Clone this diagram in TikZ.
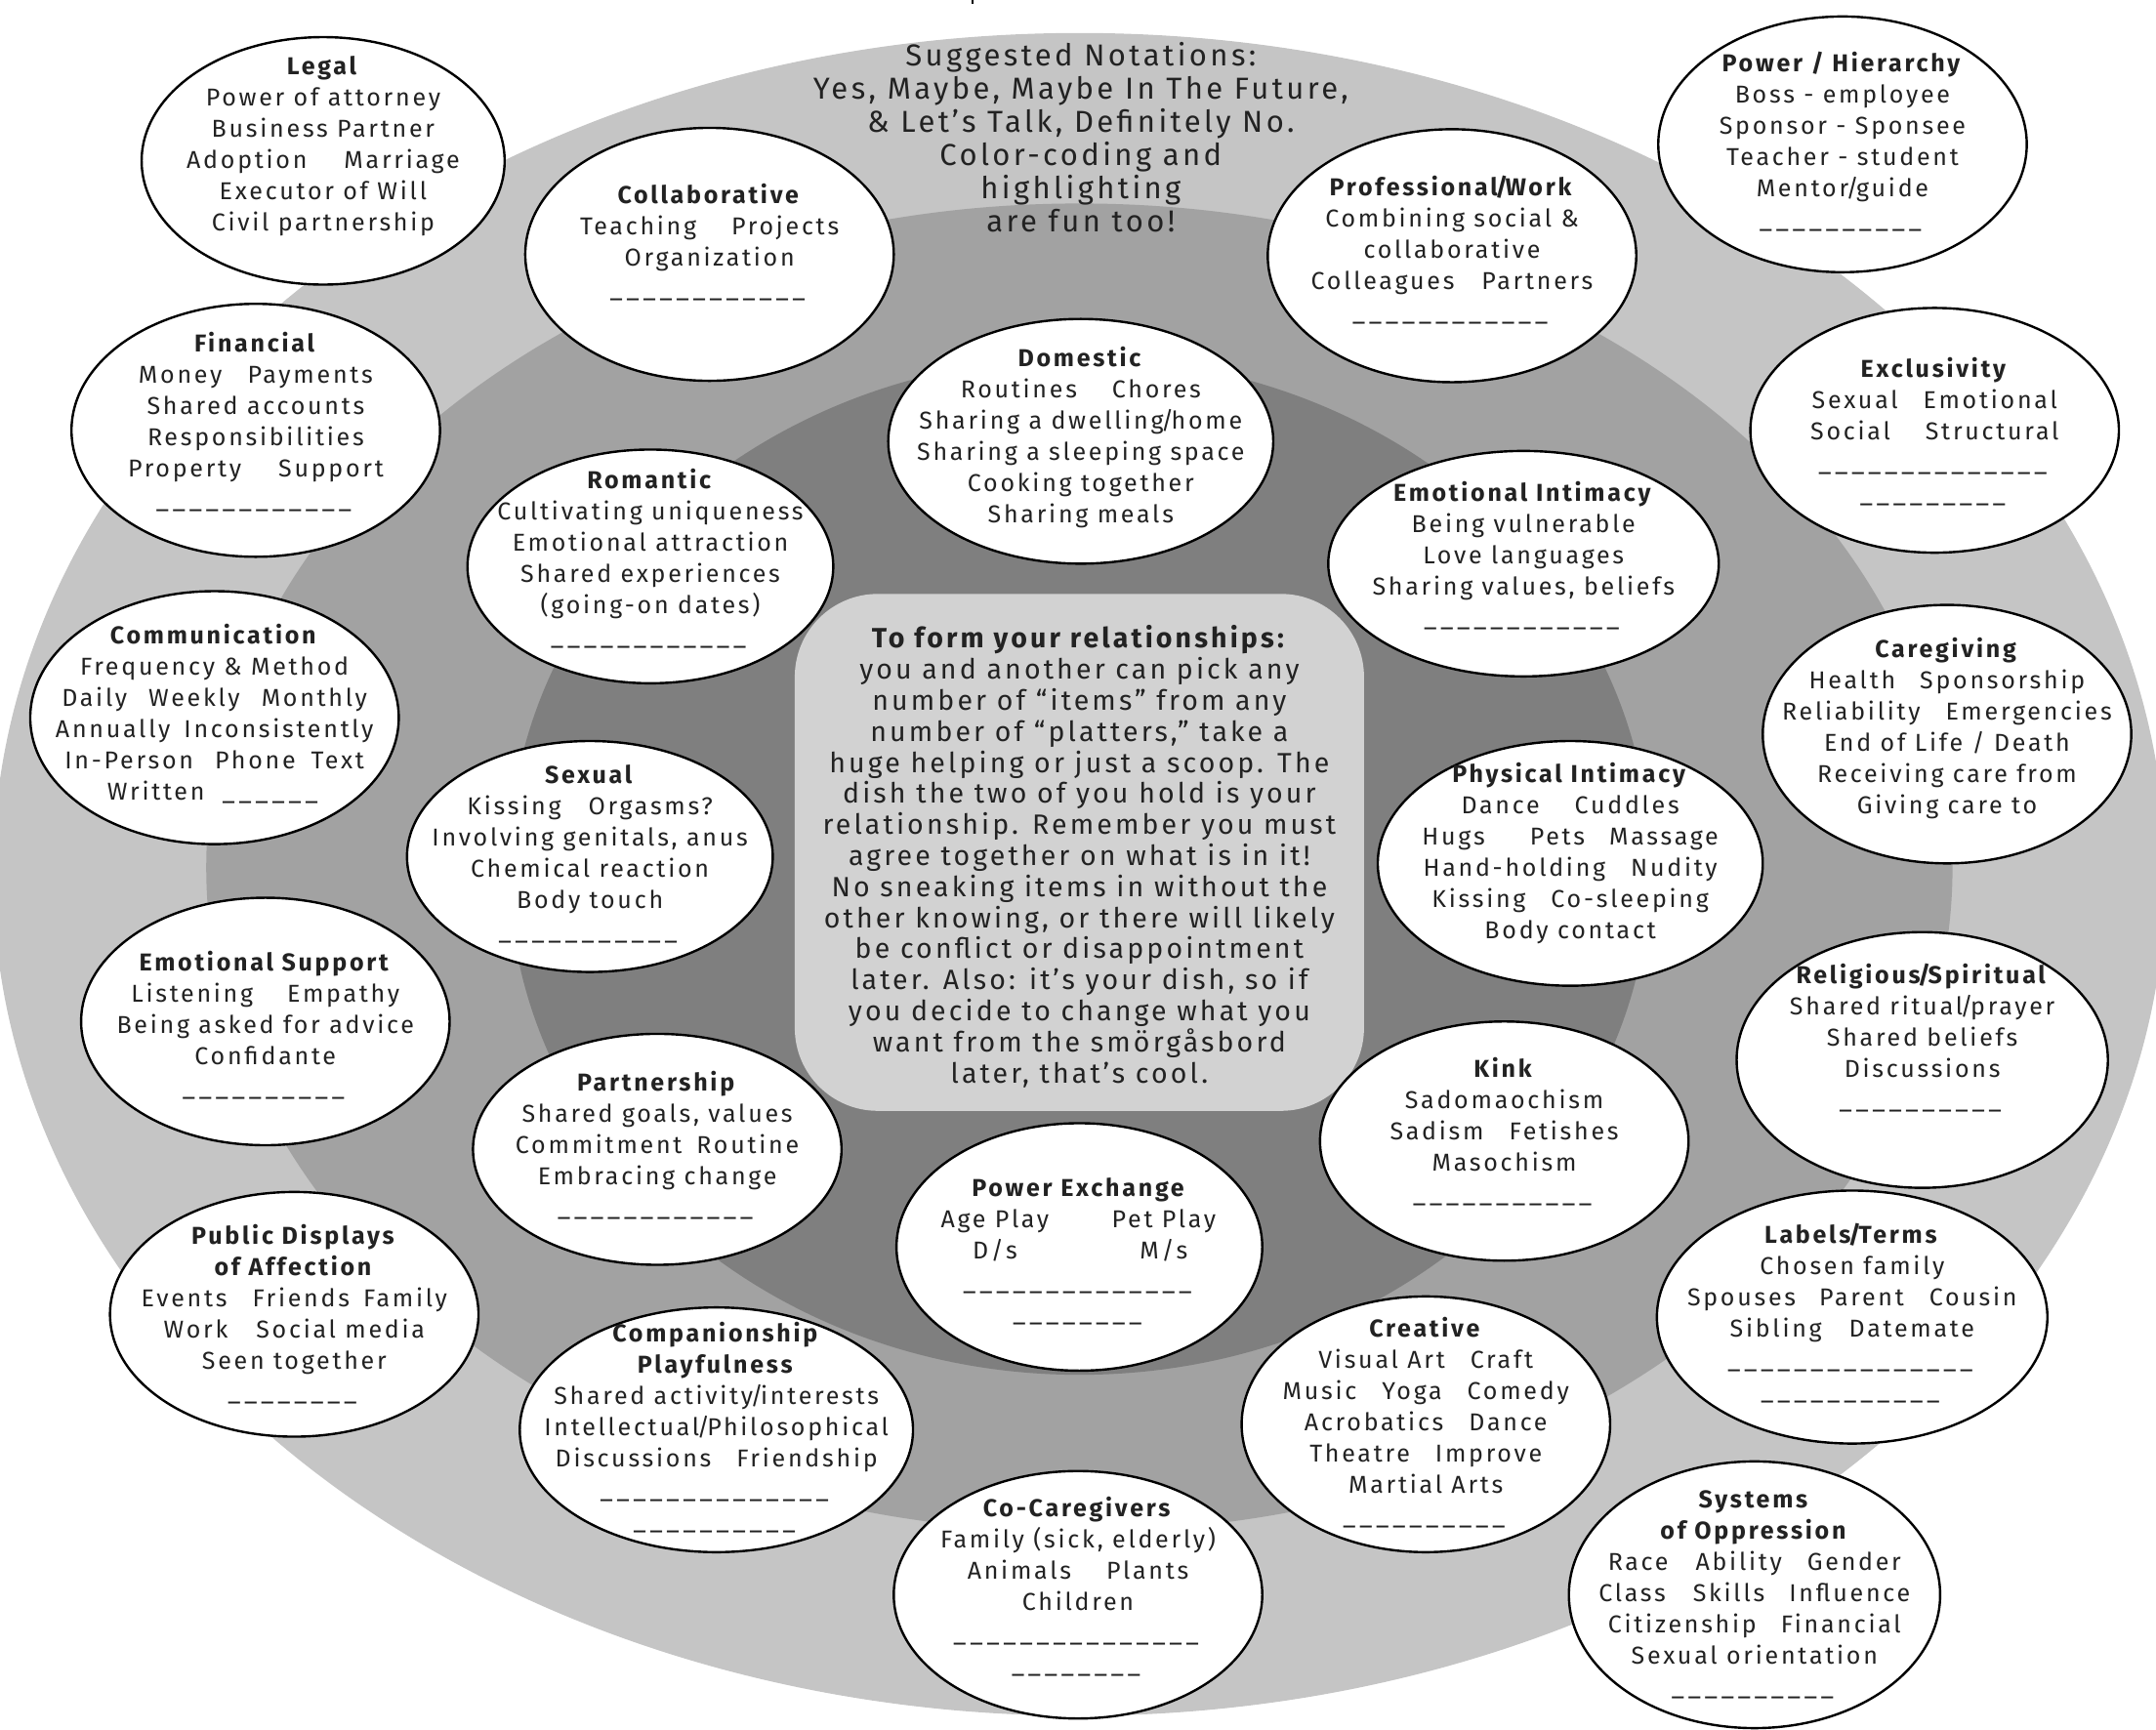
\documentclass[tikz,border=0pt]{standalone}
\usepackage{fontspec}
\setmainfont[LetterSpace=11]{Fira Sans}
\usetikzlibrary{shapes.geometric}
\definecolor{ringA}{HTML}{C5C5C5}
\definecolor{ringB}{HTML}{A2A2A2}
\definecolor{ringC}{HTML}{7F7F7F}
\definecolor{corec}{HTML}{D2D2D2}
\definecolor{ink}{HTML}{222222}
\tikzset{
  bubble/.style={ellipse, draw=black, fill=white, line width=2.4pt, inner sep=0pt},
  btext/.style={align=center, inner sep=0pt, text=ink, font=\fontsize{25}{32}\selectfont},
  ctext/.style={align=center, inner sep=0pt, text=ink, font=\fontsize{28.5}{31.8}\selectfont},
  ntext/.style={align=center, inner sep=0pt, text=ink, font=\fontsize{31}{34}\selectfont},
  corebox/.style={rectangle, rounded corners=85pt, fill=corec, inner sep=0pt},
}
\newcommand\hd[1]{\textbf{#1}}
\newcommand\g[1]{\hspace*{#1pt}}
\newcommand\slsh{\kern-2.5pt/\kern-2.5pt}
\newcommand\bl[1]{\foreach\i in {1,...,#1}{\_\kern4pt}}
\newcommand\bub[7]{%
  \node[bubble, minimum width={2*#4*1.408pt}, minimum height={2*#5*1.408pt}] (#1) at (#2,#3) {};
  \node[btext] (#1-t) at (#2,#6) {#7};}
\begin{document}
\begin{tikzpicture}[x=1.408pt,y=-1.408pt]
\useasboundingbox (0,0) rectangle (1568,1258);
\fill[ringA] (785,636) ellipse [x radius=790, y radius=612];
\fill[ringB] (785,631) ellipse [x radius=635, y radius=483];
\fill[ringC] (785,630) ellipse [x radius=415, y radius=370];
\draw[line width=2pt] (707.4,0) -- (707.4,3);
\node[corebox, minimum width={414*1.408pt}, minimum height={376*1.408pt}] (core) at (785,620) {};
\node[ctext] (core-t) at (785,623) {\hd{To form your relationships:}\\you and another can pick any\\number of “items” from any\\number of “platters,” take a\\huge helping or just a scoop. The\\dish the two of you hold is your\\relationship. Remember you must\\agree together on what is in it!\\No sneaking items in without the\\other knowing, or there will likely\\be conflict or disappointment\\later. Also: it’s your dish, so if\\you decide to change what you\\want from the smörgåsbord\\later, that’s cool.};
\node[ntext] (notes) at (786,100) {Suggested Notations:\\Yes, Maybe, Maybe In The Future,\\\& Let’s Talk, Definitely No.\\Color-coding and\\highlighting\\are fun too!};
\bub{legal}{235}{117}{132}{90}{106}{\hd{Legal}\\Power of attorney\\Business Partner\\Adoption\g{38}Marriage\\Executor of Will\\Civil partnership}
\bub{collab}{516}{185}{134}{92}{176}{\hd{Collaborative}\\Teaching\g{36}Projects\\Organization\\\bl{12}}
\bub{prof}{1056}{186}{134}{92}{182}{\hd{Professional\slsh Work}\\Combining social \&\\collaborative\\Colleagues\g{28}Partners\\\bl{12}}
\bub{power}{1340}{105}{134}{93}{103}{\hd{Power / Hierarchy}\\Boss - employee\\Sponsor - Sponsee\\Teacher - student\\Mentor\slsh guide\\\bl{10}}
\bub{fin}{186}{313}{134}{92}{307}{\hd{Financial}\\Money\g{26}Payments\\Shared accounts\\Responsibilities\\Property\g{38}Support\\\bl{12}}
\bub{dom}{786}{321}{140}{89}{318}{\hd{Domestic}\\Routines\g{36}Chores\\Sharing a dwelling\slsh home\\Sharing a sleeping space\\Cooking together\\Sharing meals}
\bub{rom}{473}{412}{133}{85}{406}{\hd{Romantic}\\Cultivating uniqueness\\Emotional attraction\\Shared experiences\\(going-on dates)\\\bl{12}}
\bub{emoi}{1108}{410}{142}{82}{404}{\hd{Emotional Intimacy}\\Being vulnerable\\Love languages\\Sharing values, beliefs\\\bl{12}}
\bub{excl}{1407}{313}{134}{89}{314}{\hd{Exclusivity}\\Sexual\g{26}Emotional\\Social\g{36}Structural\\\bl{14}\\\bl{9}}
\bub{comm}{156}{522}{134}{92}{519}{\hd{Communication}\\Frequency \& Method\\Daily\g{22}Weekly\g{22}Monthly\\Annually\g{14}Inconsistently\\In-Person\g{22}Phone\g{16}Text\\Written\g{18}\bl{6}}
\bub{care}{1416}{534}{134}{94}{530}{\hd{Caregiving}\\Health\g{25}Sponsorship\\Reliability\g{26}Emergencies\\End of Life / Death\\Receiving care from\\Giving care to}
\bub{sex}{429}{623}{133}{84}{621}{\hd{Sexual}\\Kissing\g{28}Orgasms?\\Involving genitals, anus\\Chemical reaction\\Body touch\\\bl{11}}
\bub{phys}{1142}{628}{140}{89}{621}{\hd{Physical Intimacy}\\Dance\g{36}Cuddles\\Hugs\g{46}Pets\g{25}Massage\\Hand-holding\g{26}Nudity\\Kissing\g{26}Co-sleeping\\Body contact}
\bub{esup}{193}{743}{134}{90}{746}{\hd{Emotional Support}\\Listening\g{35}Empathy\\Being asked for advice\\Confidante\\\bl{10}}
\bub{rel}{1398}{771}{135}{93}{755}{\hd{Religious\slsh Spiritual}\\Shared ritual\slsh prayer\\Shared beliefs\\Discussions\\\bl{10}}
\bub{part}{478}{836}{134}{84}{833}{\hd{Partnership}\\Shared goals, values\\Commitment\g{15}Routine\\Embracing change\\\bl{12}}
\bub{kink}{1094}{830}{134}{87}{823}{\hd{Kink}\\Sadomaochism\\Sadism\g{26}Fetishes\\Masochism\\\bl{11}}
\bub{pex}{785}{907}{133}{90}{910}{\hd{Power Exchange}\\\makebox[5em]{Age Play}\g{48}\makebox[5em]{Pet Play}\\\makebox[5em]{D/s}\g{48}\makebox[5em]{M/s}\\\bl{14}\\\bl{8}}
\bub{pda}{214}{956}{134}{89}{956}{\hd{Public Displays}\\\hd{of Affection}\\Events\g{26}Friends\g{14}Family\\Work\g{29}Social media\\Seen together\\\bl{8}}
\bub{labels}{1347}{958}{142}{92}{955}{\hd{Labels\slsh Terms}\\Chosen family\\Spouses\g{24}Parent\g{26}Cousin\\Sibling\g{28}Datemate\\\bl{15}\\\bl{11}}
\bub{comp}{521}{1040}{143}{89}{1038}{\hd{Companionship}\\\hd{Playfulness}\\Shared activity\slsh interests\\Intellectual\slsh Philosophical\\Discussions\g{26}Friendship\\\bl{14}\\\bl{10}}
\bub{crea}{1037}{1036}{134}{93}{1035}{\hd{Creative}\\Visual Art\g{26}Craft\\Music\g{26}Yoga\g{26}Comedy\\Acrobatics\g{26}Dance\\Theatre\g{26}Improve\\Martial Arts\\\bl{10}}
\bub{cocare}{784}{1160}{134}{90}{1154}{\hd{Co-Caregivers}\\Family (sick, elderly)\\Animals\g{36}Plants\\Children\\\bl{15}\\\bl{8}}
\bub{sys}{1276}{1160}{135}{97}{1160}{\hd{Systems}\\\hd{of Oppression}\\Race\g{28}Ability\g{26}Gender\\Class\g{28}Skills\g{25}Influence\\Citizenship\g{25}Financial\\Sexual orientation\\\bl{10}}
\end{tikzpicture}
\end{document}
